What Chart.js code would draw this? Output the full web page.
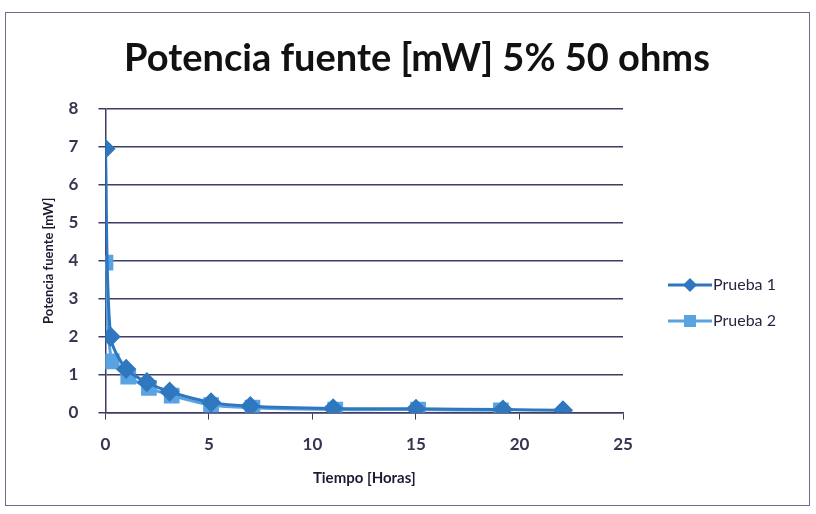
<!DOCTYPE html>
<html>
<head>
<meta charset="utf-8">
<script src="https://cdn.jsdelivr.net/npm/chart.js@4"></script>
<style>
    body { margin: 0; background: #fff; }
    #wrap { position: relative; width: 816px; height: 514px; }
    #frame { position: absolute; left: 5px; top: 12px; width: 803px; height: 492px; border: 1px solid #6b6b8a; }
    canvas { position: absolute; left: 0; top: 0; }
</style>
</head>
<body>
<div id="wrap">
    <div id="frame"></div>
    <canvas id="chart" width="816" height="514"></canvas>
</div>
<script>
// Tiempo [Horas] / Potencia fuente [mW]
const prueba1X = [0, 0.25, 1, 2, 3.1, 5.1, 7, 11, 15, 19.2, 22.1];
const prueba1Y = [6.95, 2.0, 1.15, 0.8, 0.55, 0.27, 0.17, 0.11, 0.1, 0.08, 0.06];
const prueba2X = [0, 0.3, 1.1, 2.1, 3.2, 5.1, 7.1, 11.1, 15.1, 19.1];
const prueba2Y = [3.95, 1.35, 0.95, 0.65, 0.45, 0.2, 0.13, 0.08, 0.08, 0.06];
const seriesNames = ['Prueba 1', 'Prueba 2'];
const chartTitle = 'Potencia fuente [mW] 5% 50 ohms';

const font = 'Lato, "Open Sans", sans-serif';
const toPoints = (xs, ys) => xs.map((x, i) => ({ x: x, y: ys[i] }));

const colors = ['#2f78bf', '#5aa3e2'];

// title (centred over the whole frame) + Excel-like legend: line with marker
const excelDecor = {
    id: 'excelDecor',
    afterDraw(chart) {
        const ctx = chart.ctx;
        ctx.save();
        ctx.fillStyle = '#111';
        ctx.font = 'bold 38px ' + font;
        ctx.textAlign = 'center';
        ctx.textBaseline = 'middle';
        ctx.fillText(chartTitle, 417, 59);
        ctx.restore();

        const x0 = 668, ys = [285, 321];
        chart.data.datasets.forEach((ds, i) => {
            const y = ys[i];
            ctx.save();
            ctx.strokeStyle = ds.borderColor;
            ctx.lineWidth = 3;
            ctx.beginPath();
            ctx.moveTo(x0, y);
            ctx.lineTo(x0 + 44, y);
            ctx.stroke();
            ctx.fillStyle = ds.backgroundColor;
            ctx.beginPath();
            if (ds.pointStyle === 'rectRot') {
                ctx.moveTo(x0 + 22, y - 7);
                ctx.lineTo(x0 + 29, y);
                ctx.lineTo(x0 + 22, y + 7);
                ctx.lineTo(x0 + 15, y);
                ctx.closePath();
            } else {
                ctx.rect(x0 + 16, y - 6, 12, 12);
            }
            ctx.fill();
            ctx.fillStyle = '#2a2440';
            ctx.font = '16px ' + font;
            ctx.textBaseline = 'middle';
            ctx.fillText(ds.label, x0 + 45, y);
            ctx.restore();
        });
    }
};

new Chart(document.getElementById('chart'), {
    type: 'scatter',
    data: {
        datasets: [
            {
                label: seriesNames[0],
                data: toPoints(prueba1X, prueba1Y),
                showLine: true,
                borderColor: colors[0],
                backgroundColor: colors[0],
                borderWidth: 3,
                pointStyle: 'rectRot',
                pointRadius: 8,
                tension: 0.3,
            },
            {
                label: seriesNames[1],
                data: toPoints(prueba2X, prueba2Y),
                showLine: true,
                borderColor: colors[1],
                backgroundColor: colors[1],
                borderWidth: 3,
                pointStyle: 'rect',
                pointRadius: 9,
                tension: 0.3,
            },
        ],
    },
    options: {
        responsive: false,
        animation: false,
        layout: {
            padding: { top: 109, left: 37, right: 193, bottom: 23 }
        },
        plugins: {
            legend: { display: false },
            tooltip: { enabled: false },
            title: { display: false },
        },
        scales: {
            x: {
                type: 'linear',
                min: 0,
                max: 25,
                ticks: {
                    stepSize: 5,
                    color: '#3a3352',
                    font: { family: font, size: 17, weight: 'bold' },
                    padding: 15,
                },
                grid: {
                    drawOnChartArea: false,
                    color: '#3d3d66',
                    tickLength: 7,
                },
                border: { color: '#3d3d66', width: 1.5 },
                title: {
                    display: true,
                    text: 'Tiempo [Horas]',
                    color: '#1f1a33',
                    font: { family: font, size: 15, weight: 'bold' },
                    padding: { top: -1 },
                },
            },
            y: {
                min: 0,
                max: 8,
                ticks: {
                    stepSize: 1,
                    color: '#3a3352',
                    font: { family: font, size: 17, weight: 'bold' },
                    padding: 20,
                },
                grid: {
                    color: '#3d3d66',
                    lineWidth: 1.5,
                    tickLength: 7,
                },
                border: { color: '#3d3d66', width: 1.5 },
                title: {
                    display: true,
                    text: 'Potencia fuente [mW]',
                    color: '#1f1a33',
                    font: { family: font, size: 13, weight: 'bold' },
                    padding: { bottom: -8 },
                },
            },
        },
    },
    plugins: [excelDecor],
});
</script>
</body>
</html>
